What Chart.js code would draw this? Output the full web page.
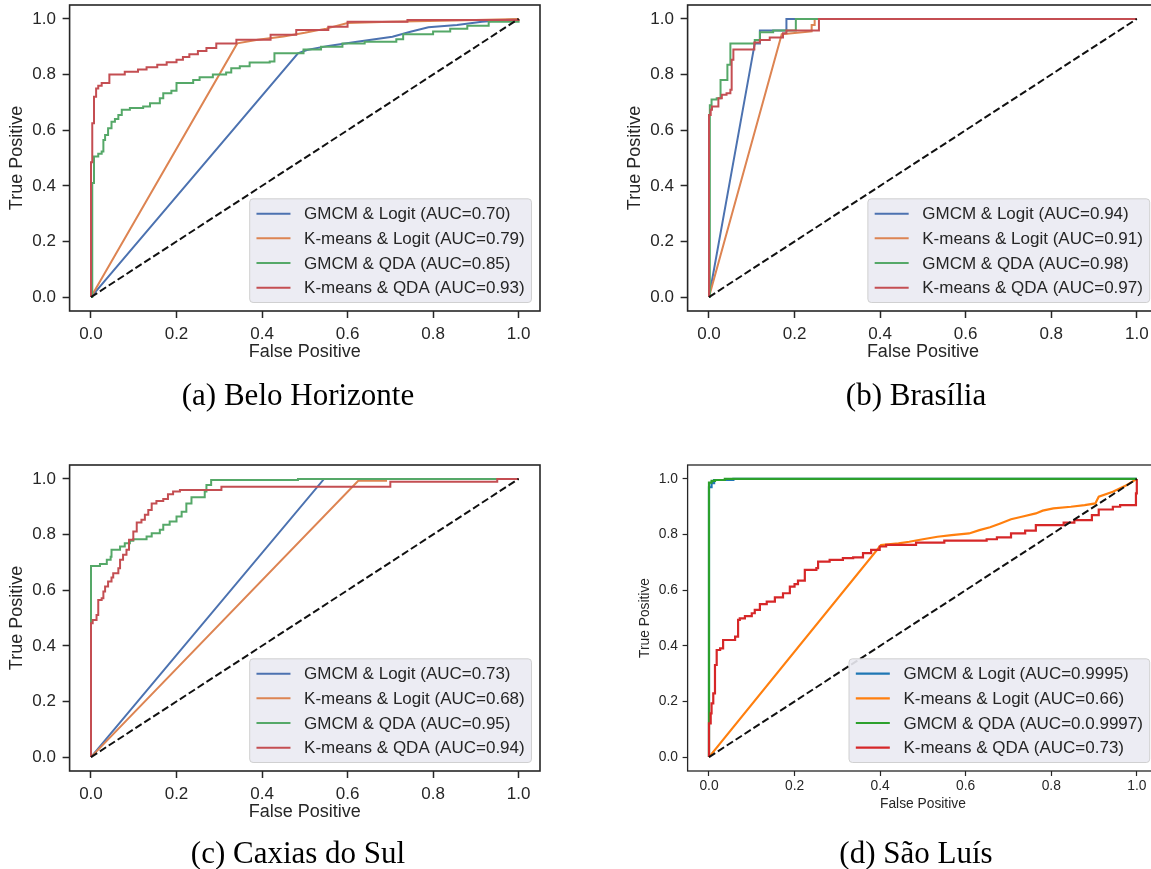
<!DOCTYPE html>
<html>
<head>
<meta charset="utf-8">
<script src="https://cdn.jsdelivr.net/npm/chart.js@4.4.1/dist/chart.umd.min.js"></script>
<style>
  html, body { margin: 0; padding: 0; background: #fff; }
  body { width: 1151px; height: 869px; position: relative; overflow: hidden; }
  .panel { position: absolute; }
  .caption { position: absolute; font-family: "Liberation Serif", serif; font-size: 31px; line-height: 31px;
             color: #000; white-space: nowrap; transform: translateX(-50%); }
</style>
</head>
<body>
<div class="panel" style="left:0;top:0"><canvas id="chartA" width="580" height="380"></canvas></div>
<div class="panel" style="left:618px;top:0"><canvas id="chartB" width="560" height="380"></canvas></div>
<div class="panel" style="left:0;top:460px"><canvas id="chartC" width="580" height="380"></canvas></div>
<div class="panel" style="left:618px;top:460px"><canvas id="chartD" width="560" height="380"></canvas></div>
<div class="caption" style="left:298px;top:379px">(a) Belo Horizonte</div>
<div class="caption" style="left:916px;top:379px">(b) Brasília</div>
<div class="caption" style="left:298px;top:837px">(c) Caxias do Sul</div>
<div class="caption" style="left:916px;top:837px">(d) São Luís</div>
<script>
// Eixos
const tickValues = [0, 0.2, 0.4, 0.6, 0.8, 1.0];
const tickLabels = ['0.0', '0.2', '0.4', '0.6', '0.8', '1.0'];
const chanceLine = [[0, 0], [1, 1]];
const methodNames = ['GMCM & Logit', 'K-means & Logit', 'GMCM & QDA', 'K-means & QDA'];

// Curvas ROC: pares [falso positivo, verdadeiro positivo]
// (curvas em degrau: cada par = x onde a curva sobe, novo valor de y)

// (a) Belo Horizonte
const aucBH = ['0.70', '0.79', '0.85', '0.93'];
const bhGmcmLogit = [[0, 0], [0.484, 0.876], [0.505, 0.888], [0.555, 0.903], [0.622, 0.918], [0.705, 0.936],
  [0.747, 0.954], [0.789, 0.97], [0.856, 0.978], [0.914, 0.99], [1, 1]];
const bhKmeansLogit = [[0, 0], [0.342, 0.912], [0.39, 0.925], [0.45, 0.937], [0.5, 0.95], [0.55, 0.965],
  [0.6, 0.985], [0.7, 0.99], [0.85, 0.994], [1, 1]];
const bhGmcmQda = [[0, 0], [0.003, 0.21], [0.003, 0.41], [0.007, 0.505], [0.017, 0.515], [0.025, 0.523],
  [0.029, 0.565], [0.033, 0.583], [0.04, 0.607], [0.048, 0.63], [0.056, 0.64], [0.064, 0.655], [0.072, 0.673],
  [0.091, 0.68], [0.122, 0.685], [0.138, 0.697], [0.161, 0.715], [0.169, 0.733], [0.188, 0.742], [0.2, 0.77],
  [0.239, 0.78], [0.254, 0.79], [0.285, 0.8], [0.316, 0.807], [0.328, 0.823], [0.348, 0.83], [0.371, 0.843],
  [0.418, 0.847], [0.429, 0.877], [0.497, 0.89], [0.538, 0.9], [0.588, 0.912], [0.64, 0.918], [0.714, 0.927],
  [0.73, 0.945], [0.8, 0.955], [0.84, 0.965], [0.88, 0.975], [0.93, 0.99], [1, 1]];
const bhKmeansQda = [[0, 0], [0, 0.485], [0.003, 0.625], [0.007, 0.72], [0.012, 0.75], [0.017, 0.76],
  [0.025, 0.77], [0.043, 0.8], [0.079, 0.81], [0.11, 0.818], [0.13, 0.826], [0.155, 0.835], [0.177, 0.844],
  [0.2, 0.853], [0.215, 0.863], [0.23, 0.873], [0.25, 0.885], [0.27, 0.895], [0.293, 0.912], [0.34, 0.925],
  [0.42, 0.943], [0.48, 0.96], [0.555, 0.972], [0.6, 0.99], [0.74, 0.996], [1, 1]];

// (b) Brasília
const aucBS = ['0.94', '0.91', '0.98', '0.97'];
const bsGmcmLogit = [[0, 0], [0.107, 0.912], [0.119, 0.912], [0.119, 0.958], [0.181, 0.958], [0.181, 1], [1, 1]];
const bsKmeansLogit = [[0, 0], [0.17, 0.945], [0.24, 0.955], [0.24, 0.978], [0.247, 0.978], [0.247, 1], [1, 1]];
const bsGmcmQda = [[0, 0], [0.002, 0.69], [0.006, 0.71], [0.018, 0.715], [0.027, 0.78], [0.043, 0.835],
  [0.05, 0.912], [0.107, 0.924], [0.119, 0.952], [0.15, 0.958], [0.203, 1], [1, 1]];
const bsKmeansQda = [[0, 0], [0, 0.655], [0.004, 0.673], [0.007, 0.685], [0.022, 0.715], [0.03, 0.727],
  [0.041, 0.733], [0.05, 0.745], [0.053, 0.853], [0.057, 0.89], [0.106, 0.915], [0.119, 0.924], [0.142, 0.933],
  [0.173, 0.948], [0.181, 0.958], [0.257, 1], [1, 1]];

// (c) Caxias do Sul
const aucCS = ['0.73', '0.68', '0.95', '0.94'];
const csGmcmLogit = [[0, 0], [0.545, 1], [1, 1]];
const csKmeansLogit = [[0, 0], [0.625, 0.993], [0.69, 0.993], [0.69, 1], [1, 1]];
const csGmcmQda = [[0, 0], [0, 0.687], [0.021, 0.694], [0.037, 0.709], [0.046, 0.72], [0.048, 0.745],
  [0.068, 0.757], [0.079, 0.769], [0.091, 0.778], [0.099, 0.783], [0.13, 0.793], [0.142, 0.805], [0.161, 0.817],
  [0.169, 0.835], [0.184, 0.847], [0.2, 0.865], [0.212, 0.882], [0.223, 0.912], [0.235, 0.934], [0.266, 0.955],
  [0.27, 0.978], [0.281, 0.996], [0.484, 1], [1, 1]];
const csKmeansQda = [[0, 0], [0, 0.481], [0.004, 0.493], [0.013, 0.511], [0.017, 0.565], [0.025, 0.571],
  [0.029, 0.595], [0.033, 0.613], [0.04, 0.631], [0.048, 0.646], [0.052, 0.661], [0.064, 0.679], [0.068, 0.709],
  [0.075, 0.727], [0.083, 0.745], [0.089, 0.781], [0.099, 0.811], [0.107, 0.843], [0.118, 0.853], [0.126, 0.871],
  [0.134, 0.888], [0.142, 0.912], [0.153, 0.921], [0.169, 0.928], [0.18, 0.945], [0.192, 0.955], [0.208, 0.96],
  [0.305, 0.972], [0.7, 0.99], [0.95, 1], [1, 1]];

// (d) São Luís
const aucSL = ['0.9995', '0.66', '0.0.9997', '0.73'];
const slGmcmLogit = [[0, 0], [0, 0.97], [0.006, 0.985], [0.012, 0.996], [0.057, 1], [1, 1]];
const slKmeansLogit = [[0, 0], [0.402, 0.762], [0.443, 0.768], [0.468, 0.774], [0.5, 0.783], [0.534, 0.792],
  [0.567, 0.798], [0.608, 0.804], [0.632, 0.816], [0.657, 0.826], [0.681, 0.84], [0.706, 0.855], [0.731, 0.864],
  [0.764, 0.876], [0.78, 0.886], [0.805, 0.894], [0.846, 0.9], [0.878, 0.906], [0.903, 0.912], [0.911, 0.936],
  [0.944, 0.954], [0.977, 0.978], [1, 1]];
const slGmcmQda = [[0, 0], [0, 0.987], [0.006, 0.993], [0.014, 0.996], [0.037, 1], [1, 1]];
const slKmeansQda = [[0, 0], [0, 0.121], [0.004, 0.157], [0.006, 0.193], [0.01, 0.229], [0.014, 0.331],
  [0.018, 0.385], [0.026, 0.391], [0.033, 0.421], [0.061, 0.433], [0.068, 0.493], [0.072, 0.499], [0.084, 0.507],
  [0.1, 0.517], [0.107, 0.529], [0.119, 0.55], [0.135, 0.559], [0.154, 0.574], [0.173, 0.589], [0.189, 0.613],
  [0.2, 0.622], [0.208, 0.634], [0.224, 0.673], [0.251, 0.679], [0.255, 0.703], [0.282, 0.709], [0.313, 0.715],
  [0.337, 0.718], [0.36, 0.733], [0.379, 0.745], [0.399, 0.757], [0.414, 0.763], [0.484, 0.771], [0.55, 0.778],
  [0.649, 0.783], [0.673, 0.79], [0.706, 0.804], [0.739, 0.814], [0.764, 0.834], [0.829, 0.843], [0.854, 0.852],
  [0.895, 0.87], [0.911, 0.89], [0.944, 0.9], [0.961, 0.906], [0.998, 0.948], [1, 1]];

// Paletas (seaborn deep e matplotlib tab10)
const deepColors = ['#4C72B0', '#DD8452', '#55A868', '#C44E52'];
const tabColors = ['#1f77b4', '#ff7f0e', '#2ca02c', '#d62728'];
const TEXT = '#262626';
const FONT = '"Liberation Sans", Arial, sans-serif';

// Moldura completa em volta da área do gráfico
const framePlugin = {
    id: 'frame',
    afterDraw(chart, args, opts) {
        const { ctx, chartArea: a } = chart;
        ctx.save();
        ctx.strokeStyle = TEXT;
        ctx.lineWidth = opts.width;
        ctx.strokeRect(a.left, a.top, a.right - a.left, a.bottom - a.top);
        ctx.restore();
    }
};

// Legenda dentro do gráfico, canto inferior direito (estilo matplotlib)
const insideLegend = {
    id: 'insideLegend',
    afterDatasetsDraw(chart, args, opts) {
        const { ctx, chartArea: a } = chart;
        const fs = opts.fontSize;
        const items = chart.data.datasets.filter(d => d.label);
        ctx.save();
        ctx.font = fs + 'px ' + FONT;
        const textW = Math.max(...items.map(d => ctx.measureText(d.label).width));
        const pad = 0.4 * fs, handleLen = 2 * fs, handleGap = 0.8 * fs;
        const rowH = 0.95 * fs, spacing = 0.5 * fs, margin = 0.5 * fs;
        const w = 2 * pad + handleLen + handleGap + textW;
        const h = 2 * pad + items.length * rowH + (items.length - 1) * spacing;
        const x0 = a.right - margin - w;
        const y0 = a.bottom - margin - h;
        ctx.beginPath();
        ctx.roundRect(x0, y0, w, h, 0.2 * fs);
        ctx.fillStyle = 'rgba(234,234,242,0.9)';
        ctx.fill();
        ctx.strokeStyle = 'rgba(204,204,204,0.9)';
        ctx.lineWidth = 1;
        ctx.stroke();
        items.forEach((d, i) => {
            const cy = y0 + pad + rowH / 2 + i * (rowH + spacing);
            ctx.beginPath();
            ctx.moveTo(x0 + pad, cy);
            ctx.lineTo(x0 + pad + handleLen, cy);
            ctx.strokeStyle = d.borderColor;
            ctx.lineWidth = d.borderWidth;
            ctx.stroke();
            ctx.fillStyle = TEXT;
            ctx.textBaseline = 'middle';
            ctx.fillText(d.label, x0 + pad + handleLen + handleGap, cy + 1);
        });
        ctx.restore();
    }
};

function axisOptions(p, isX) {
    return {
        type: 'linear',
        position: isX ? 'bottom' : 'left',
        min: -0.05,
        max: 1.05,
        afterBuildTicks: s => { s.ticks = tickValues.map(v => ({ value: v })); },
        afterFit: s => {
            if (isX) { s.height = p.xAxisH; s.paddingLeft = 0; s.paddingRight = 0; }
            else { s.width = p.yAxisW; s.paddingTop = 0; s.paddingBottom = 0; }
        },
        grid: { display: true, drawOnChartArea: false, drawTicks: true, tickLength: p.tickLen, tickWidth: p.tickW, tickColor: TEXT },
        border: { display: false },
        ticks: {
            autoSkip: false, maxRotation: 0, padding: isX ? p.xTickPad : p.tickPad, color: TEXT,
            font: { family: FONT, size: p.tickSize },
            callback: (v, i) => tickLabels[i]
        },
        title: {
            display: true,
            text: isX ? 'False Positive' : 'True Positive',
            color: TEXT,
            font: { family: FONT, size: p.titleSize },
            padding: isX ? { top: 0, bottom: p.xTitlePad } : { top: p.yTitlePad, bottom: 0 }
        }
    };
}

function curve(points, label, color, width, stepped, order) {
    return {
        label: label,
        data: points.map(pt => ({ x: pt[0], y: pt[1] })),
        showLine: true,
        borderColor: color,
        borderWidth: width,
        pointRadius: 0,
        stepped: stepped ? 'before' : false,
        order: order
    };
}

function drawPanel(p) {
    const datasets = p.curves.map((pts, i) =>
        curve(pts, methodNames[i] + ' (AUC=' + p.auc[i] + ')', p.colors[i], p.lineW, p.stepped[i], 4 - i));
    datasets.push({
        data: chanceLine.map(pt => ({ x: pt[0], y: pt[1] })),
        showLine: true, borderColor: '#111', borderWidth: p.dashW, borderDash: [7.4, 3.2],
        pointRadius: 0, order: 0
    });
    new Chart(document.getElementById(p.id), {
        type: 'scatter',
        data: { datasets: datasets },
        options: {
            responsive: false,
            animation: false,
            layout: { padding: p.padding },
            scales: { x: axisOptions(p, true), y: axisOptions(p, false) },
            plugins: {
                legend: { display: false },
                tooltip: { enabled: false },
                frame: { width: p.frameW },
                insideLegend: { fontSize: p.legendSize }
            }
        },
        plugins: [framePlugin, insideLegend]
    });
}

const bigText = { tickSize: 17, titleSize: 18, tickLen: 7, tickW: 1.5, tickPad: 6.6, xTickPad: 5.8, yAxisW: 69.6, xAxisH: 69,
    yTitlePad: 6.2, xTitlePad: 17.2, lineW: 2, dashW: 2, frameW: 1.6, legendSize: 17, colors: deepColors,
    stepped: [false, false, true, true] };

drawPanel(Object.assign({}, bigText, { id: 'chartA', padding: { left: 0, top: 5, right: 40, bottom: 0 },
    curves: [bhGmcmLogit, bhKmeansLogit, bhGmcmQda, bhKmeansQda], auc: aucBH }));
drawPanel(Object.assign({}, bigText, { id: 'chartB', padding: { left: 0, top: 5, right: 19.8, bottom: 0 },
    curves: [bsGmcmLogit, bsKmeansLogit, bsGmcmQda, bsKmeansQda], auc: aucBS }));
drawPanel(Object.assign({}, bigText, { id: 'chartC', padding: { left: 0, top: 5, right: 40, bottom: 0 },
    curves: [csGmcmLogit, csKmeansLogit, csGmcmQda, csKmeansQda], auc: aucCS }));
drawPanel({ id: 'chartD', padding: { left: 0, top: 5, right: 19.8, bottom: 0 },
    tickSize: 13.8, titleSize: 13.8, tickLen: 5, tickW: 1.2, tickPad: 4.6, xTickPad: 2, yAxisW: 69.6, xAxisH: 69,
    yTitlePad: 18.7, xTitlePad: 27.4, lineW: 2.2, dashW: 2, frameW: 1.3, legendSize: 17, colors: tabColors,
    stepped: [true, false, true, true],
    curves: [slGmcmLogit, slKmeansLogit, slGmcmQda, slKmeansQda], auc: aucSL });
</script>
</body>
</html>
